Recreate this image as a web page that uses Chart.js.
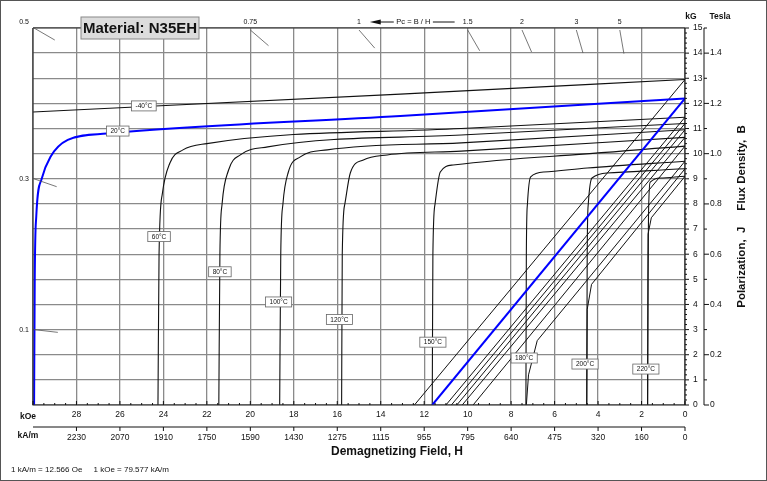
<!DOCTYPE html>
<html><head><meta charset="utf-8">
<script src="https://cdn.jsdelivr.net/npm/chart.js@4.4.1/dist/chart.umd.min.js"></script>
<style>html,body{margin:0;padding:0;background:#fff}#wrap{width:765px;height:479px;border:1px solid #555;position:relative}canvas{display:block}</style>
</head><body><div id="wrap"><canvas id="c" width="765" height="479"></canvas></div>
<script>
// ---- data (H in kOe, B/J in kG) ----
const temps = ['-40°C','20°C','60°C','80°C','100°C','120°C','150°C','180°C','200°C','220°C'];
const jM40 = [[0,12.95],[13.1,12.37],[30,11.66]];
const j20  = [[0,12.2],[13.1,11.5],[26.6,10.8],[28.4,10.55],[29.2,9.87],[29.6,9.0],[29.85,7.5],[29.92,5],[29.95,0]];
const j60  = [[0,11.45],[10.3,11.0],[22,10.4],[23.1,10.15],[23.7,9.63],[24.05,8.4],[24.2,6],[24.25,0]];
const j80  = [[0,11.2],[10.3,10.74],[19.2,10.27],[20.46,9.95],[21.0,9.35],[21.3,8],[21.4,6],[21.45,0]];
const j100 = [[0,10.95],[10.3,10.43],[16.46,10.15],[17.7,9.87],[18.25,9.27],[18.5,8],[18.6,6],[18.65,0]];
const j120 = [[0,10.65],[10.3,10.1],[13.7,9.95],[14.8,9.75],[15.4,9.23],[15.65,8],[15.77,6],[15.8,0]];
const j150 = [[0,10.3],[6.07,9.9],[10.67,9.55],[11.26,9.27],[11.5,8],[11.6,6],[11.63,0]];
const j180 = [[0,9.7],[4.5,9.43],[6.5,9.27],[7.1,9.08],[7.25,8],[7.3,6],[7.32,0]];
const j200 = [[0,9.4],[3.6,9.23],[4.28,9.03],[4.45,8],[4.5,6],[4.52,0]];
const j220 = [[0,9.1],[1.15,9.03],[1.6,8.87],[1.68,7.5],[1.7,5],[1.72,0]];
const bM40 = [[0,12.95],[12.45,0]];
const b20  = [[0,12.2],[11.63,0]];
const b60  = [[0,11.45],[11.0,0]];
const b80  = [[0,11.2],[10.75,0]];
const b100 = [[0,10.95],[10.5,0]];
const b120 = [[0,10.65],[10.25,0]];
const b150 = [[0,10.3],[9.75,0]];
const b180 = [[0,9.7],[6.8,2.56],[7.2,1.2],[7.3,0]];
const b200 = [[0,9.4],[4.3,4.8],[4.5,3.8],[4.52,0]];
const b220 = [[0,9.1],[1.55,7.45],[1.7,6.8],[1.72,0]];
const labelPos = [[24.9,11.9],[26.1,10.9],[24.2,6.7],[21.4,5.3],[18.7,4.1],[15.9,3.4],[11.6,2.5],[7.4,1.87],[4.6,1.63],[1.8,1.43]];
const kOeTicks = [28,26,24,22,20,18,16,14,12,10,8,6,4,2,0];
const kAmLabels = ['2230','2070','1910','1750','1590','1430','1275','1115','955','795','640','475','320','160','0'];
const kGTicks = [0,1,2,3,4,5,6,7,8,9,10,11,12,13,14,15];
const teslaTicks = ['0','0.2','0.4','0.6','0.8','1.0','1.2','1.4'];
const pcTop = ['0.75','1','1.5','2','3','5'];
const pcLeft = ['0.5','0.3','0.1'];

const jCurves = [jM40,j20,j60,j80,j100,j120,j150,j180,j200,j220];
const bCurves = [bM40,b20,b60,b80,b100,b120,b150,b180,b200,b220];
const pts = a => a.map(p => ({x:p[0], y:p[1]}));
const datasets = [];
jCurves.forEach((c,i)=>datasets.push({data:pts(c),borderColor:i===1?'#0000ff':'#111',borderWidth:i===1?2:1.1,pointRadius:0,showLine:true,cubicInterpolationMode:'monotone',order:i===1?0:1}));
bCurves.forEach((c,i)=>datasets.push({data:pts(c),borderColor:i===1?'#0000ff':'#111',borderWidth:i===1?2:1,pointRadius:0,showLine:true,tension:0,order:i===1?0:1}));

const deco = {
  id:'deco',
  afterDraw(ch){
    const c = ch.ctx, xs = ch.scales.x, ys = ch.scales.y, a = ch.chartArea;
    const X = v=>xs.getPixelForValue(v), Y = v=>ys.getPixelForValue(v);
    c.save();
    // frame
    c.strokeStyle='#333'; c.lineWidth=1.2;
    c.beginPath(); c.moveTo(a.left,a.top); c.lineTo(a.right,a.top); c.moveTo(a.left,a.top); c.lineTo(a.left,a.bottom); c.lineTo(a.right,a.bottom); c.stroke();
    // right kG axis
    c.strokeStyle='#111'; c.lineWidth=1; c.fillStyle='#111';
    c.beginPath(); c.moveTo(a.right,a.top); c.lineTo(a.right,a.bottom); c.stroke();
    c.font='8.5px Arial, Liberation Sans'; c.textBaseline='middle'; c.textAlign='left';
    for(let v=0; v<=15.001; v+=0.2){ const y=Y(v); c.beginPath(); c.moveTo(a.right,y); c.lineTo(a.right+ (Math.abs(v-Math.round(v))<0.01?4:2),y); c.stroke(); }
    kGTicks.forEach(v=>c.fillText(String(v),a.right+8,Y(v)));
    // Tesla axis
    const tx = a.right+19;
    c.beginPath(); c.moveTo(tx,a.top); c.lineTo(tx,a.bottom); c.stroke();
    for(let t=0;t<=15;t+=1){ const y=Y(t); c.beginPath(); c.moveTo(tx,y); c.lineTo(tx+(t%2===0?5:3),y); c.stroke(); }
    teslaTicks.forEach(s=>c.fillText(s,tx+6,Y(parseFloat(s)*10)));
    c.font='bold 8.5px Arial, Liberation Sans'; c.textAlign='center';
    c.fillText('kG',a.right+6,a.top-11); c.fillText('Tesla',tx+16,a.top-11);
    // right title
    c.save(); c.translate(a.right+57,(a.top+a.bottom)/2); c.rotate(-Math.PI/2);
    c.font='bold 11.5px Arial, Liberation Sans'; c.fillText('Polarization,  J     Flux Density,  B',0,0); c.restore();
    // bottom kOe axis
    for(let h=0;h<=30.001;h+=0.5){ const x=X(h); c.beginPath(); c.moveTo(x,a.bottom); c.lineTo(x,a.bottom-(Math.abs(h-Math.round(h/2)*2)<0.01?4:2)); c.stroke(); }
    c.font='8.5px Arial, Liberation Sans'; c.textAlign='center';
    kOeTicks.forEach(h=>c.fillText(String(h),X(h),a.bottom+10));
    // kA/m axis
    const ky = a.bottom+22;
    c.beginPath(); c.moveTo(a.left,ky); c.lineTo(a.right,ky); c.stroke();
    kOeTicks.forEach((h,i)=>{ const x=X(h); c.beginPath(); c.moveTo(x,ky); c.lineTo(x,ky+4); c.stroke(); c.fillText(kAmLabels[i],x,ky+11); });
    c.font='bold 8.5px Arial, Liberation Sans'; c.textAlign='center';
    c.fillText('kOe',a.left-5,a.bottom+12); c.fillText('kA/m',a.left-5,ky+9);
    c.font='bold 12px Arial, Liberation Sans';
    c.fillText('Demagnetizing Field, H',(a.left+a.right)/2+38,ky+25);
    c.font='8px Arial, Liberation Sans'; c.textAlign='left';
    c.fillText('1 kA/m = 12.566 Oe     1 kOe = 79.577 kA/m',10,ky+43);
    // Pc load-line marks
    const ox=X(0), oy=Y(0);
    const mark=(px,py)=>{ const dx=ox-px, dy=oy-py, L=Math.hypot(dx,dy); c.beginPath(); c.moveTo(px,py); c.lineTo(px+dx/L*24,py+dy/L*24); c.stroke(); };
    c.strokeStyle='#555'; c.lineWidth=0.8; c.fillStyle='#111';
    c.font='7px Arial, Liberation Sans'; c.textAlign='center';
    pcTop.forEach(s=>{ const h=15/parseFloat(s); const px=X(h), py=Y(15); mark(px,py+2); c.fillText(s,px,py-6); });
    pcLeft.forEach(s=>{ const b=30*parseFloat(s); const px=X(30), py=Y(b); mark(px+1,py); c.fillText(s,px-9,b>=15?py-6:py); });
    // Pc = B / H with arrow
    c.font='7.5px Arial, Liberation Sans'; c.fillText('Pc = B / H',X(12.5),Y(15)-6);
    c.strokeStyle='#111'; c.lineWidth=1;
    c.beginPath(); c.moveTo(X(14.1),Y(15)-6); c.lineTo(X(13.4),Y(15)-6); c.moveTo(X(11.6),Y(15)-6); c.lineTo(X(10.6),Y(15)-6); c.stroke();
    c.beginPath(); c.moveTo(X(14.5),Y(15)-6); c.lineTo(X(14.0),Y(15)-8.5); c.lineTo(X(14.0),Y(15)-3.5); c.fill();
    // temperature labels
    c.font='6.5px Arial, Liberation Sans'; c.textAlign='center'; c.textBaseline='middle';
    labelPos.forEach((p,i)=>{ const x=X(p[0]), y=Y(p[1]); const w=c.measureText(temps[i]).width+8;
      c.fillStyle='#fff'; c.fillRect(x-w/2,y-5,w,10); c.strokeStyle='#666'; c.lineWidth=0.8; c.strokeRect(x-w/2,y-5,w,10);
      c.fillStyle='#111'; c.fillText(temps[i],x,y+0.5); });
    // title box
    c.fillStyle='#dcdcdc'; c.fillRect(80,16,118,22); c.strokeStyle='#888'; c.lineWidth=1; c.strokeRect(80,16,118,22);
    c.fillStyle='#111'; c.font='bold 15px Arial, Liberation Sans'; c.textAlign='center'; c.fillText('Material: N35EH',139,27.5);
    c.restore();
  }
};

new Chart(document.getElementById('c'), {
  type:'scatter',
  data:{datasets},
  options:{
    responsive:false, animation:false, devicePixelRatio:1,
    layout:{padding:{left:32,top:27,right:81,bottom:75}},
    plugins:{legend:{display:false},tooltip:{enabled:false}},
    scales:{
      x:{type:'linear',min:0,max:30,reverse:true,ticks:{display:false,stepSize:2},grid:{color:'#8a8a8a',lineWidth:1.3,drawTicks:false},border:{display:false}},
      y:{type:'linear',min:0,max:15,ticks:{display:false,stepSize:1},grid:{color:'#8a8a8a',lineWidth:1.3,drawTicks:false},border:{display:false}}
    }
  },
  plugins:[deco]
});
</script></body></html>
